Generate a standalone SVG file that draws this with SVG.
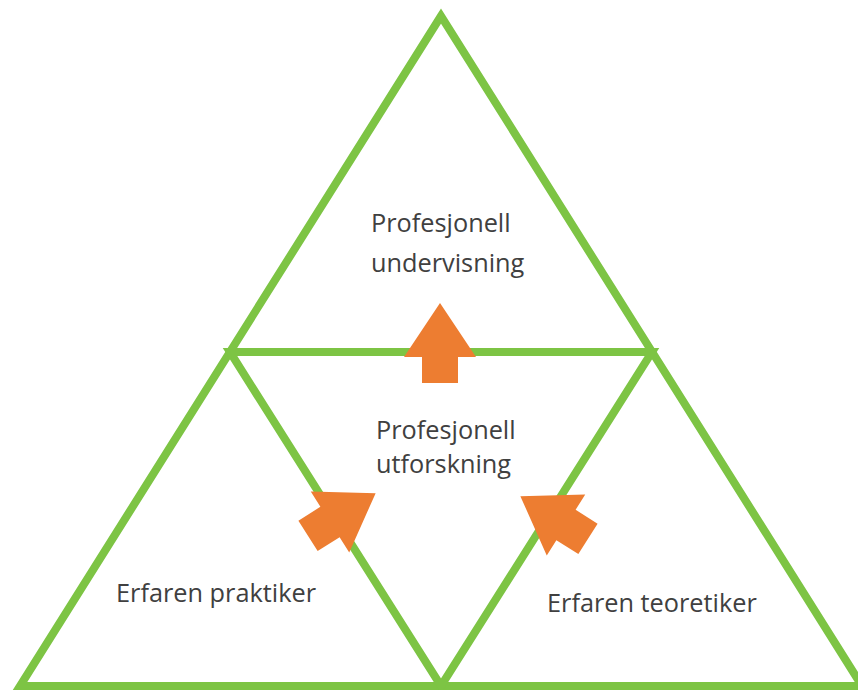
<svg xmlns="http://www.w3.org/2000/svg" width="858" height="690" viewBox="0 0 858 690">
  <defs>
    <style>
      .tri { fill: none; stroke: #7DC444; stroke-width: 8; stroke-linejoin: miter; stroke-miterlimit: 10; }
      .lbl { font-family: "Open Sans", "Liberation Sans", sans-serif; font-size: 25.3px; fill: #404040; }
      .arr { fill: #ED7D31; }
    </style>
    <path id="arrow" d="M0,-54 L36,0 L18,0 L18,26 L-18,26 L-18,0 L-36,0 Z"/>
  </defs>
  <rect width="858" height="690" fill="#FFFFFF"/>
  <g id="frame">
    <polygon class="tri" points="441,16 20,686 862,686"/>
    <polygon class="tri" points="230,352 652,352 441,686"/>
  </g>
  <g id="node-undervisning">
    <text class="lbl" x="371" y="232">Profesjonell</text>
    <text class="lbl" x="371" y="272">undervisning</text>
  </g>
  <g id="node-utforskning">
    <text class="lbl" x="376" y="439">Profesjonell</text>
    <text class="lbl" x="376" y="473">utforskning</text>
  </g>
  <g id="node-praktiker">
    <text class="lbl" x="116" y="602">Erfaren praktiker</text>
  </g>
  <g id="node-teoretiker">
    <text class="lbl" x="547" y="612">Erfaren teoretiker</text>
  </g>
  <g id="connectors">
    <use href="#arrow" class="arr" transform="translate(440,357)"/>
    <use href="#arrow" class="arr" transform="translate(330,522) rotate(57.7)"/>
    <use href="#arrow" class="arr" transform="translate(566,525) rotate(-57.7)"/>
  </g>
</svg>
